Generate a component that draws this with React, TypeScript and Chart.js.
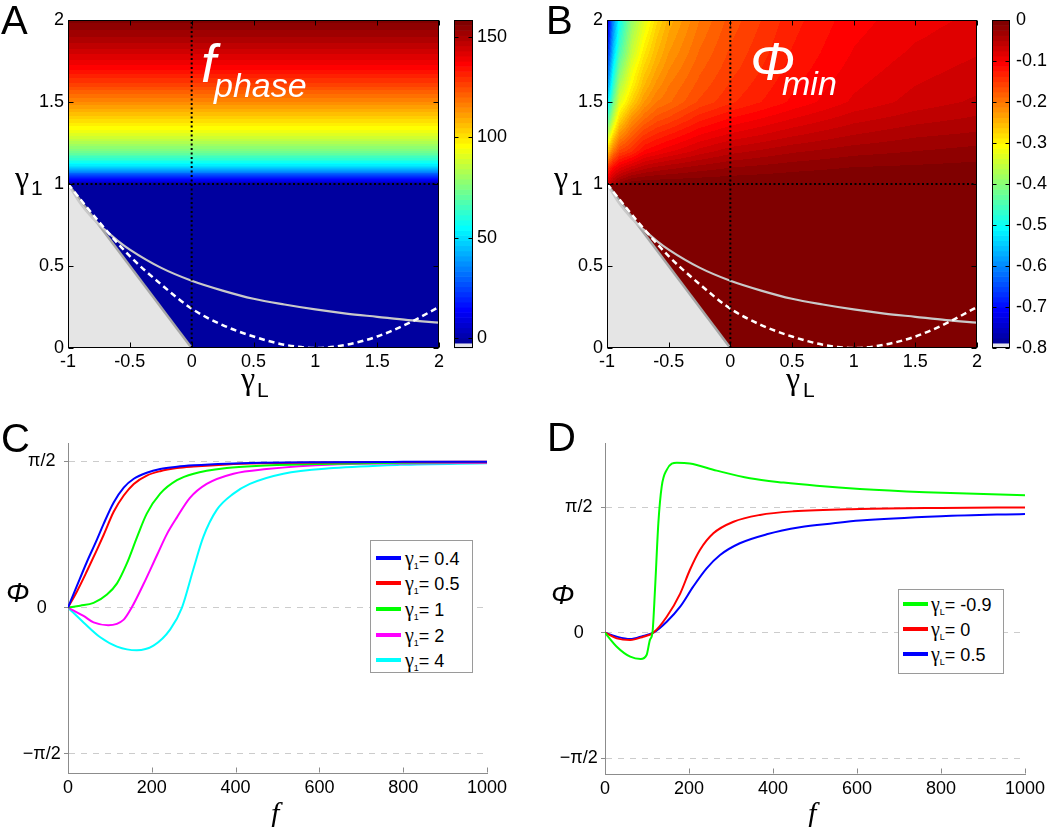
import React, { useEffect, useRef } from "react";
import { Chart, registerables } from "chart.js";

Chart.register(...registerables);

const SANS = "'Liberation Sans', Arial, Helvetica, sans-serif";
const SERIF = "'Liberation Serif', 'Times New Roman', serif";

// ---------------- Panels A / B : axes ----------------
const GAMMA_L_TICKS = [-1, -0.5, 0, 0.5, 1, 1.5, 2];
const GAMMA_1_TICKS = [0, 0.5, 1, 1.5, 2];

// Panel A : f_phase versus gamma_1 (value 0 for gamma_1 <= 1)
const FPHASE_GAMMA1 = [1.0, 1.025, 1.05, 1.1, 1.15, 1.2, 1.3, 1.4, 1.5, 1.6, 1.7, 1.8, 1.9, 2.0];
const FPHASE_VALUES = [0, 14, 24, 48, 62, 74, 91, 103, 115, 126, 136, 144, 151, 157];
const FPHASE_CBAR_TICKS = [0, 50, 100, 150];
const FPHASE_CBAR_MIN = -5;
const FPHASE_CBAR_MAX = 158.5;

// Panel B : Phi_min grid (rows: gamma_1, columns: gamma_L), 0 for gamma_1 <= 1
const PHIMIN_GAMMA_L = [-1, -0.95, -0.9, -0.8, -0.7, -0.6, -0.5, -0.25, 0, 0.5, 1, 1.5, 2];
const PHIMIN_GAMMA1 = [1.0, 1.1, 1.2, 1.3, 1.4, 1.5, 1.6, 1.7, 1.8, 1.9, 2.0];
const PHIMIN_ROW_10 = [-0.08, -0.04, -0.02, 0, 0, 0, 0, 0, 0, 0, 0, 0, 0];
const PHIMIN_ROW_11 = [-0.15, -0.11, -0.09, -0.07, -0.055, -0.047, -0.042, -0.032, -0.025, -0.017, -0.012, -0.01, -0.008];
const PHIMIN_ROW_12 = [-0.27, -0.2, -0.16, -0.14, -0.11, -0.1, -0.09, -0.07, -0.055, -0.04, -0.03, -0.025, -0.02];
const PHIMIN_ROW_13 = [-0.37, -0.28, -0.22, -0.18, -0.15, -0.135, -0.125, -0.1, -0.085, -0.065, -0.05, -0.04, -0.035];
const PHIMIN_ROW_14 = [-0.46, -0.36, -0.28, -0.22, -0.19, -0.17, -0.16, -0.13, -0.112, -0.088, -0.068, -0.056, -0.048];
const PHIMIN_ROW_15 = [-0.54, -0.42, -0.33, -0.27, -0.225, -0.2, -0.19, -0.16, -0.14, -0.11, -0.085, -0.07, -0.06];
const PHIMIN_ROW_16 = [-0.6, -0.47, -0.37, -0.3, -0.25, -0.22, -0.2, -0.17, -0.148, -0.115, -0.09, -0.075, -0.066];
const PHIMIN_ROW_17 = [-0.65, -0.51, -0.41, -0.32, -0.27, -0.237, -0.213, -0.178, -0.155, -0.12, -0.095, -0.08, -0.071];
const PHIMIN_ROW_18 = [-0.69, -0.55, -0.45, -0.35, -0.29, -0.252, -0.225, -0.186, -0.16, -0.124, -0.099, -0.085, -0.076];
const PHIMIN_ROW_19 = [-0.72, -0.58, -0.48, -0.37, -0.31, -0.265, -0.235, -0.193, -0.165, -0.127, -0.102, -0.089, -0.081];
const PHIMIN_ROW_20 = [-0.74, -0.6, -0.5, -0.39, -0.33, -0.28, -0.245, -0.2, -0.17, -0.13, -0.105, -0.092, -0.085];
const PHIMIN_GRID = [
  PHIMIN_ROW_10, PHIMIN_ROW_11, PHIMIN_ROW_12, PHIMIN_ROW_13, PHIMIN_ROW_14, PHIMIN_ROW_15,
  PHIMIN_ROW_16, PHIMIN_ROW_17, PHIMIN_ROW_18, PHIMIN_ROW_19, PHIMIN_ROW_20,
];
const PHIMIN_CBAR_TICKS = [0, -0.1, -0.2, -0.3, -0.4, -0.5, -0.6, -0.7, -0.8];
const PHIMIN_CBAR_LABELS = ["0", "-0.1", "-0.2", "-0.3", "-0.4", "-0.5", "-0.6", "-0.7", "-0.8"];
const PHIMIN_CBAR_MIN = -0.8;
const PHIMIN_CBAR_MAX = 0;

// Boundary lines shared by A and B
const EDGE_GAMMA_L = [-1, 0];
const EDGE_GAMMA_1 = [1, 0];
const SOLID_GAMMA_L = [-1, -0.9, -0.8, -0.7, -0.6, -0.5, -0.25, 0, 0.25, 0.5, 0.75, 1, 1.25, 1.5, 1.75, 2];
const SOLID_GAMMA_1 = [1, 0.88, 0.79, 0.72, 0.655, 0.6, 0.49, 0.41, 0.35, 0.3, 0.265, 0.235, 0.21, 0.19, 0.17, 0.155];
const DASHED_GAMMA_L = [-1, -0.75, -0.5, -0.25, 0, 0.25, 0.5, 0.75, 1, 1.25, 1.5, 1.75, 2];
const DASHED_GAMMA_1 = [1, 0.77, 0.56, 0.39, 0.24, 0.14, 0.07, 0.02, 0, 0.02, 0.07, 0.15, 0.25];
const DOT_V_GAMMA_L = [0, 0];
const DOT_V_GAMMA_1 = [0, 2];
const DOT_H_GAMMA_L = [-1, 2];
const DOT_H_GAMMA_1 = [1, 1];

// ---------------- Panels C / D ----------------
const F_TICKS = [0, 200, 400, 600, 800, 1000];
const PHI_TICKS = [-Math.PI / 2, 0, Math.PI / 2];
const PHI_TICK_LABELS = ["\u2212\u03c0/2", "0", "\u03c0/2"];

const C_GAMMA1 = ["0.4", "0.5", "1", "2", "4"];
const C_COLORS = ["#0000ff", "#ff0000", "#00ff00", "#ff00ff", "#00ffff"];
const C_F_BLUE = [0, 21, 45, 69, 85, 109, 133, 157, 188, 220, 260, 300, 379, 460, 600, 800, 1000];
const C_PHI_BLUE = [0, 0.23, 0.49, 0.73, 0.9, 1.13, 1.29, 1.385, 1.45, 1.49, 1.515, 1.53, 1.548, 1.557, 1.563, 1.567, 1.569];
const C_F_RED = [0, 21, 45, 69, 85, 109, 133, 157, 188, 220, 260, 300, 379, 460, 600, 800, 1000];
const C_PHI_RED = [0, 0.17, 0.39, 0.62, 0.78, 1.03, 1.205, 1.33, 1.42, 1.467, 1.5, 1.517, 1.54, 1.552, 1.561, 1.566, 1.568];
const C_F_GREEN = [0, 29, 61, 93, 117, 141, 165, 188, 220, 260, 300, 379, 459, 602, 800, 1000];
const C_PHI_GREEN = [0, 0.02, 0.05, 0.14, 0.26, 0.48, 0.76, 1.01, 1.225, 1.37, 1.44, 1.5, 1.525, 1.545, 1.558, 1.564];
const C_F_MAGENTA = [0, 37, 61, 96, 133, 152, 180, 212, 236, 260, 291, 331, 395, 474, 633, 800, 1000];
const C_PHI_MAGENTA = [0, -0.09, -0.16, -0.19, -0.13, 0, 0.25, 0.56, 0.79, 0.97, 1.18, 1.33, 1.44, 1.49, 1.54, 1.55, 1.556];
const C_F_CYAN = [0, 37, 77, 117, 164, 204, 244, 272, 299, 323, 355, 395, 434, 514, 633, 792, 1000];
const C_PHI_CYAN = [0, -0.16, -0.32, -0.42, -0.46, -0.41, -0.235, 0, 0.41, 0.76, 1.05, 1.225, 1.33, 1.44, 1.5, 1.535, 1.553];

const D_GAMMAL = ["-0.9", "0", "0.5"];
const D_COLORS = ["#00ff00", "#ff0000", "#0000ff"];
const D_F_GREEN = [0, 28, 60, 85, 99, 107, 113, 119, 127, 135, 147, 171, 202, 266, 345, 425, 504, 607, 763, 1000];
const D_PHI_GREEN = [0, -0.175, -0.3, -0.33, -0.28, -0.09, 0, 0.535, 1.37, 1.83, 2.04, 2.13, 2.12, 2.03, 1.934, 1.88, 1.84, 1.8, 1.76, 1.72];
const D_F_RED = [0, 28, 60, 91, 115, 147, 179, 202, 226, 258, 306, 369, 448, 607, 800, 1000];
const D_PHI_RED = [0, -0.071, -0.092, -0.05, 0, 0.2, 0.49, 0.785, 1.036, 1.245, 1.39, 1.475, 1.52, 1.55, 1.563, 1.569];
const D_F_BLUE = [0, 28, 60, 91, 115, 147, 179, 210, 242, 274, 321, 385, 464, 544, 607, 800, 1000];
const D_PHI_BLUE = [0, -0.05, -0.08, -0.04, 0, 0.138, 0.326, 0.577, 0.806, 0.973, 1.12, 1.232, 1.32, 1.37, 1.404, 1.458, 1.488];

// ---------------- helpers ----------------
type RGB = [number, number, number];

function jet64WithFloor(v: number, lo: number, hi: number): RGB {
  const t = (v - lo) / (hi - lo);
  let k = Math.floor(t * 64) + 1;
  if (k < 1) k = 1;
  if (k > 64) k = 64;
  if (k === 1) return [228, 228, 236];
  const c = (n: number) => Math.round(255 * Math.max(0, Math.min(1, n / 16)));
  return [c(Math.min(k - 24, 72 - k)), c(Math.min(k - 8, 56 - k)), c(Math.min(k + 8, 40 - k))];
}

function interp(xs: number[], ys: number[], x: number): number {
  const n = xs.length;
  if (x <= xs[0]) return ys[0];
  if (x >= xs[n - 1]) return ys[n - 1];
  let i = 0;
  while (x > xs[i + 1]) i++;
  const t = (x - xs[i]) / (xs[i + 1] - xs[i]);
  return ys[i] + t * (ys[i + 1] - ys[i]);
}

function fPhaseAt(_gl: number, g1: number): number {
  if (g1 <= 1) return 0;
  return interp(FPHASE_GAMMA1, FPHASE_VALUES, g1);
}

function phiMinAt(gl: number, g1: number): number {
  if (g1 <= 1) return 0;
  const col = PHIMIN_GRID.map((row) => interp(PHIMIN_GAMMA_L, row, gl));
  return interp(PHIMIN_GAMMA1, col, g1);
}

const pts = (xs: number[], ys: number[]) => xs.map((x, i) => ({ x, y: ys[i] }));

function heatPlugin(valueAt: (gl: number, g1: number) => number, lo: number, hi: number) {
  return {
    id: "heatField",
    beforeDatasetsDraw(chart: any) {
      const { ctx, chartArea: a } = chart;
      const xs = chart.scales.x;
      const ys = chart.scales.y;
      const x0 = Math.round(a.left);
      const y0 = Math.round(a.top);
      const w = Math.round(a.right) - x0;
      const h = Math.round(a.bottom) - y0;
      const off = document.createElement("canvas");
      off.width = w;
      off.height = h;
      const octx = off.getContext("2d") as CanvasRenderingContext2D;
      const img = octx.createImageData(w, h);
      for (let j = 0; j < h; j++) {
        const g1 = ys.getValueForPixel(y0 + j + 0.5);
        for (let i = 0; i < w; i++) {
          const gl = xs.getValueForPixel(x0 + i + 0.5);
          const [r, g, b] = jet64WithFloor(valueAt(gl, g1), lo, hi);
          const k = (j * w + i) * 4;
          img.data[k] = r;
          img.data[k + 1] = g;
          img.data[k + 2] = b;
          img.data[k + 3] = 255;
        }
      }
      octx.putImageData(img, 0, 0);
      ctx.save();
      ctx.drawImage(off, x0, y0);
      ctx.restore();
    },
  };
}

function colorbarPlugin(lo: number, hi: number) {
  return {
    id: "colorbarField",
    beforeDatasetsDraw(chart: any) {
      const { ctx, chartArea: a } = chart;
      const ys = chart.scales.y;
      for (let k = 1; k <= 64; k++) {
        const v0 = lo + ((k - 1) / 64) * (hi - lo);
        const v1 = lo + (k / 64) * (hi - lo);
        const p0 = ys.getPixelForValue(v0);
        const p1 = ys.getPixelForValue(v1);
        const [r, g, b] = jet64WithFloor((v0 + v1) / 2, lo, hi);
        ctx.fillStyle = `rgb(${r},${g},${b})`;
        ctx.fillRect(a.left, p1, a.right - a.left, p0 - p1 + 0.6);
      }
    },
  };
}

function framePlugin(o: { color: string; len: number; xTicks: boolean; yTicks: boolean; box: boolean; both: boolean }) {
  return {
    id: "frameTicks",
    afterDatasetsDraw(chart: any) {
      const { ctx, chartArea: a } = chart;
      const L = Math.round(a.left) + 0.5;
      const R = Math.round(a.right) - 0.5;
      const T = Math.round(a.top) + 0.5;
      const B = Math.round(a.bottom) - 0.5;
      ctx.save();
      ctx.setLineDash([]);
      ctx.strokeStyle = o.color;
      ctx.lineWidth = 1;
      ctx.beginPath();
      if (o.xTicks) {
        const xs = chart.scales.x;
        for (const t of xs.ticks) {
          const p = Math.round(xs.getPixelForValue(t.value)) + 0.5;
          ctx.moveTo(p, B);
          ctx.lineTo(p, B - o.len);
          if (o.both) {
            ctx.moveTo(p, T);
            ctx.lineTo(p, T + o.len);
          }
        }
      }
      if (o.yTicks) {
        const ys = chart.scales.y;
        for (const t of ys.ticks) {
          const p = Math.round(ys.getPixelForValue(t.value)) + 0.5;
          ctx.moveTo(L, p);
          ctx.lineTo(L + o.len, p);
          if (o.both) {
            ctx.moveTo(R, p);
            ctx.lineTo(R - o.len, p);
          }
        }
      }
      ctx.stroke();
      if (o.box) ctx.strokeRect(L, T, R - L, B - T);
      ctx.restore();
    },
  };
}

const tickFont = { family: SANS, size: 18 };

function heatConfig(valueAt: (gl: number, g1: number) => number, lo: number, hi: number, yAxisWidth: number, padRight: number) {
  return {
    type: "line",
    data: {
      datasets: [
        { data: pts(DOT_V_GAMMA_L, DOT_V_GAMMA_1), borderColor: "#000", borderWidth: 2, borderDash: [2, 2.5], pointRadius: 0, fill: false },
        { data: pts(DOT_H_GAMMA_L, DOT_H_GAMMA_1), borderColor: "#000", borderWidth: 2, borderDash: [2, 2.5], pointRadius: 0, fill: false },
        { data: pts(DASHED_GAMMA_L, DASHED_GAMMA_1), borderColor: "#ffffff", borderWidth: 2.5, borderDash: [6, 4], pointRadius: 0, cubicInterpolationMode: "monotone", fill: false },
        { data: pts(SOLID_GAMMA_L, SOLID_GAMMA_1), borderColor: "#c9c9c9", borderWidth: 2.2, pointRadius: 0, cubicInterpolationMode: "monotone", fill: false },
        { data: pts(EDGE_GAMMA_L, EDGE_GAMMA_1), borderColor: "#a6a6a6", borderWidth: 2.5, backgroundColor: "#e5e5e5", pointRadius: 0, fill: "origin" },
      ],
    },
    options: {
      animation: false,
      responsive: false,
      events: [],
      layout: { padding: { top: 20, right: padRight, left: 0, bottom: 0 } },
      plugins: { legend: { display: false }, tooltip: { enabled: false } },
      scales: {
        x: {
          type: "linear",
          min: -1,
          max: 2,
          afterBuildTicks: (s: any) => {
            s.ticks = GAMMA_L_TICKS.map((value) => ({ value }));
          },
          afterFit: (s: any) => {
            s.height = 62;
          },
          grid: { display: false, drawTicks: false },
          border: { display: false },
          ticks: { padding: 3, color: "#000", font: tickFont, autoSkip: false, maxRotation: 0, callback: (v: any) => String(v) },
        },
        y: {
          type: "linear",
          min: 0,
          max: 2,
          afterBuildTicks: (s: any) => {
            s.ticks = GAMMA_1_TICKS.map((value) => ({ value }));
          },
          afterFit: (s: any) => {
            s.width = yAxisWidth;
          },
          grid: { display: false, drawTicks: false },
          border: { display: false },
          ticks: { padding: 4, color: "#000", font: tickFont, autoSkip: false, callback: (v: any) => String(v) },
        },
      },
    },
    plugins: [heatPlugin(valueAt, lo, hi), framePlugin({ color: "#000", len: 5, xTicks: true, yTicks: true, box: true, both: true })],
  };
}

function colorbarConfig(lo: number, hi: number, ticks: number[], labels: string[], padLeft: number, axisWidth: number, labelPad: number) {
  return {
    type: "line",
    data: { datasets: [] },
    options: {
      animation: false,
      responsive: false,
      events: [],
      layout: { padding: { top: 20, left: padLeft, right: 0, bottom: 62 } },
      plugins: { legend: { display: false }, tooltip: { enabled: false } },
      scales: {
        x: { type: "linear", display: false, min: 0, max: 1 },
        y: {
          type: "linear",
          position: "right",
          min: lo,
          max: hi,
          afterBuildTicks: (s: any) => {
            s.ticks = ticks.map((value) => ({ value }));
          },
          afterFit: (s: any) => {
            s.width = axisWidth;
          },
          grid: { display: false, drawTicks: false },
          border: { display: false },
          ticks: { padding: labelPad, color: "#000", font: tickFont, autoSkip: false, callback: (_v: any, i: number) => labels[i] },
        },
      },
    },
    plugins: [colorbarPlugin(lo, hi), framePlugin({ color: "#000", len: 4, xTicks: false, yTicks: true, box: true, both: true })],
  };
}

function curveConfig(
  series: { f: number[]; phi: number[]; color: string }[],
  yMin: number,
  yMax: number,
  yAxisWidth: number,
  padRight: number,
  xAxisHeight: number,
  yLabelPad: number
) {
  return {
    type: "line",
    data: {
      datasets: series.map((s) => ({
        data: pts(s.f, s.phi),
        borderColor: s.color,
        borderWidth: 2,
        pointRadius: 0,
        fill: false,
        cubicInterpolationMode: "monotone",
      })),
    },
    options: {
      animation: false,
      responsive: false,
      events: [],
      layout: { padding: { top: 23, right: padRight, left: 0, bottom: 0 } },
      plugins: { legend: { display: false }, tooltip: { enabled: false } },
      scales: {
        x: {
          type: "linear",
          min: 0,
          max: 1000,
          afterBuildTicks: (s: any) => {
            s.ticks = F_TICKS.map((value) => ({ value }));
          },
          afterFit: (s: any) => {
            s.height = xAxisHeight;
          },
          grid: { display: false, drawTicks: false },
          border: { display: true, color: "#8c8c8c", width: 1 },
          ticks: { padding: 4.2, color: "#000", font: tickFont, autoSkip: false, maxRotation: 0, callback: (v: any) => String(v) },
        },
        y: {
          type: "linear",
          min: yMin,
          max: yMax,
          afterBuildTicks: (s: any) => {
            s.ticks = PHI_TICKS.map((value) => ({ value }));
          },
          afterFit: (s: any) => {
            s.width = yAxisWidth;
          },
          grid: { display: true, drawOnChartArea: true, color: "#cccccc", lineWidth: 1, drawTicks: true, tickLength: 4, tickColor: "#8c8c8c", tickBorderDash: [] },
          border: { display: true, color: "#8c8c8c", width: 1, dash: [6, 6] },
          ticks: { padding: yLabelPad, crossAlign: "center", color: "#000", font: tickFont, autoSkip: false, callback: (_v: any, i: number) => PHI_TICK_LABELS[i] },
        },
      },
    },
    plugins: [framePlugin({ color: "#8c8c8c", len: 5, xTicks: true, yTicks: false, box: false, both: false })],
  };
}

// ---------------- components ----------------
function ChartBox({ x, y, w, h, make }: { x: number; y: number; w: number; h: number; make: () => any }) {
  const ref = useRef<HTMLCanvasElement>(null);
  useEffect(() => {
    const chart = new Chart(ref.current as HTMLCanvasElement, make());
    return () => chart.destroy();
  }, []);
  return <canvas ref={ref} width={w} height={h} style={{ position: "absolute", left: x, top: y, width: w, height: h }} />;
}

function Txt({ x, y, size, family = SANS, italic = false, color = "#000", children }: any) {
  const k = family === SERIF ? 0.838 : 0.847;
  return (
    <span
      style={{
        position: "absolute",
        left: x,
        top: y - k * size,
        fontSize: size,
        lineHeight: `${size}px`,
        fontFamily: family,
        fontStyle: italic ? "italic" : "normal",
        color,
        whiteSpace: "nowrap",
      }}
    >
      {children}
    </span>
  );
}

function Legend({ left, top, width, height, rows, sub, firstY, step, lineLeft, textLeft }: any) {
  return (
    <div style={{ position: "absolute", left, top, width, height, boxSizing: "border-box", border: "1px solid #9a9a9a", background: "#fff" }}>
      {rows.map((r: any, i: number) => {
        const cy = firstY + i * step;
        return (
          <div key={i}>
            <div style={{ position: "absolute", left: lineLeft, top: cy - 2, width: 25, height: 4, background: r.color }} />
            <div style={{ position: "absolute", left: textLeft, top: cy - 11, height: 22, lineHeight: "22px", whiteSpace: "nowrap", color: "#000" }}>
              <span style={{ fontFamily: SERIF, fontSize: 20 }}>{"\u03b3"}</span>
              <span style={{ fontFamily: SANS, fontSize: 9, position: "relative", top: 4 }}>{sub}</span>
              <span style={{ fontFamily: SANS, fontSize: 18 }}>{"= " + r.label}</span>
            </div>
          </div>
        );
      })}
    </div>
  );
}

export default function App() {
  const makeA = () => heatConfig(fPhaseAt, FPHASE_CBAR_MIN, FPHASE_CBAR_MAX, 68, 11);
  const makeACbar = () => colorbarConfig(FPHASE_CBAR_MIN, FPHASE_CBAR_MAX, FPHASE_CBAR_TICKS, FPHASE_CBAR_TICKS.map(String), 8, 67, 4);
  const makeB = () => heatConfig(phiMinAt, PHIMIN_CBAR_MIN, PHIMIN_CBAR_MAX, 67, 9);
  const makeBCbar = () => colorbarConfig(PHIMIN_CBAR_MIN, PHIMIN_CBAR_MAX, PHIMIN_CBAR_TICKS, PHIMIN_CBAR_LABELS, 8, 40, 6);
  const makeC = () =>
    curveConfig(
      [
        { f: C_F_BLUE, phi: C_PHI_BLUE, color: C_COLORS[0] },
        { f: C_F_RED, phi: C_PHI_RED, color: C_COLORS[1] },
        { f: C_F_GREEN, phi: C_PHI_GREEN, color: C_COLORS[2] },
        { f: C_F_MAGENTA, phi: C_PHI_MAGENTA, color: C_COLORS[3] },
        { f: C_F_CYAN, phi: C_PHI_CYAN, color: C_COLORS[4] },
      ],
      -1.78,
      1.77,
      68,
      43,
      54,
      3.2
    );
  const makeD = () =>
    curveConfig(
      [
        { f: D_F_GREEN, phi: D_PHI_GREEN, color: D_COLORS[0] },
        { f: D_F_RED, phi: D_PHI_RED, color: D_COLORS[1] },
        { f: D_F_BLUE, phi: D_PHI_BLUE, color: D_COLORS[2] },
      ],
      -1.77,
      2.376,
      75,
      25,
      53,
      3.2
    );

  return (
    <div style={{ position: "absolute", left: 0, top: 0, width: 1050, height: 827, background: "#fff", overflow: "hidden" }}>
      <ChartBox x={0} y={0} w={450} h={410} make={makeA} />
      <ChartBox x={446} y={0} w={94} h={410} make={makeACbar} />
      <ChartBox x={540} y={0} w={446} h={410} make={makeB} />
      <ChartBox x={984} y={0} w={66} h={410} make={makeBCbar} />
      <ChartBox x={0} y={420} w={530} h={407} make={makeC} />
      <ChartBox x={530} y={420} w={520} h={407} make={makeD} />

      {/* panel letters */}
      <Txt x={1} y={34} size={40}>A</Txt>
      <Txt x={546} y={33.5} size={40}>B</Txt>
      <Txt x={1} y={451.5} size={40}>C</Txt>
      <Txt x={547} y={450.5} size={40}>D</Txt>

      {/* A axis labels */}
      <Txt x={15} y={188} size={32} family={SERIF}>{"\u03b3"}</Txt>
      <Txt x={31} y={195} size={21}>1</Txt>
      <Txt x={241} y={389} size={32} family={SERIF}>{"\u03b3"}</Txt>
      <Txt x={257} y={397} size={21}>L</Txt>

      {/* B axis labels */}
      <Txt x={554} y={188} size={32} family={SERIF}>{"\u03b3"}</Txt>
      <Txt x={571} y={195} size={21}>1</Txt>
      <Txt x={786} y={389} size={32} family={SERIF}>{"\u03b3"}</Txt>
      <Txt x={803} y={397} size={21}>L</Txt>

      {/* in-plot titles */}
      <Txt x={201} y={82} size={54} italic color="#fff">f</Txt>
      <Txt x={214} y={97} size={34} italic color="#fff">phase</Txt>
      <Txt x={750} y={80} size={54} italic color="#fff">{"\u03a6"}</Txt>
      <Txt x={782} y={95} size={34} italic color="#fff">min</Txt>

      {/* C / D axis labels */}
      <Txt x={6} y={603} size={28} italic>{"\u03a6"}</Txt>
      <Txt x={271} y={823} size={30} family={SERIF} italic>f</Txt>
      <Txt x={551} y={605} size={28} italic>{"\u03a6"}</Txt>
      <Txt x={808} y={823} size={30} family={SERIF} italic>f</Txt>

      <Legend
        left={370}
        top={540}
        width={103}
        height={133}
        sub="1"
        firstY={16.5}
        step={25.7}
        lineLeft={5}
        textLeft={34}
        rows={C_GAMMA1.map((label, i) => ({ label, color: C_COLORS[i] }))}
      />
      <Legend
        left={898}
        top={589}
        width={106}
        height={85}
        sub="L"
        firstY={14.3}
        step={25}
        lineLeft={3.5}
        textLeft={32}
        rows={D_GAMMAL.map((label, i) => ({ label, color: D_COLORS[i] }))}
      />
    </div>
  );
}
